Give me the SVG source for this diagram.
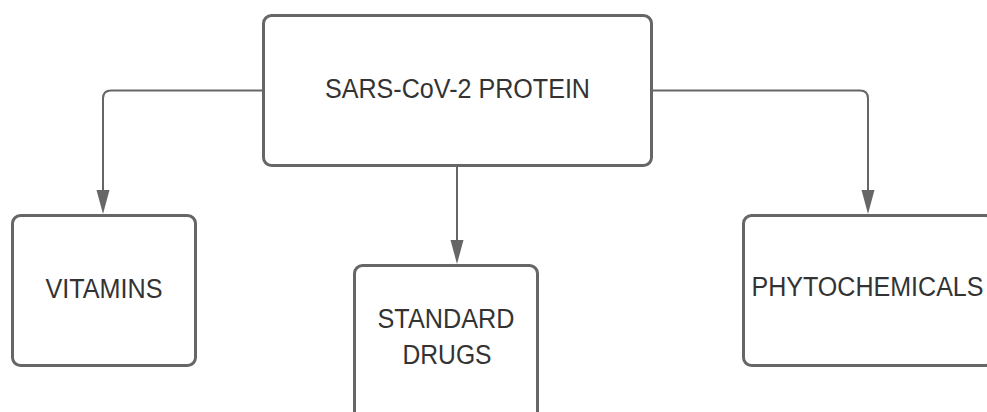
<svg xmlns="http://www.w3.org/2000/svg" width="987" height="412" viewBox="0 0 987 412">
<style>
.box{fill:#fff;stroke:#666;stroke-width:3}
.lbl{font-family:"Liberation Sans",Arial,sans-serif;font-size:27px;fill:#333;text-anchor:middle}
.conn{fill:none;stroke:#666;stroke-width:2}
.head{fill:#666}
</style>
<rect width="987" height="412" fill="#fff"/>
<g id="connectors">
<path class="conn" d="M263,90.5 H111 Q103,90.5 103,98.5 V200"/>
<path class="conn" d="M652,90.5 H860 Q868,90.5 868,98.5 V200"/>
<path class="conn" d="M457,166 V250"/>
<path class="head" d="M96.5,190 L109.5,190 L103,214 Z"/>
<path class="head" d="M861.5,190 L874.5,190 L868,214 Z"/>
<path class="head" d="M450.5,240 L463.5,240 L457,264 Z"/>
</g>
<g id="sars">
<rect class="box" x="263.5" y="15.5" width="388" height="150" rx="8"/>
<text class="lbl" x="457.5" y="97.7" textLength="265" lengthAdjust="spacingAndGlyphs">SARS-CoV-2 PROTEIN</text>
</g>
<g id="vitamins">
<rect class="box" x="12.5" y="215.5" width="183" height="150" rx="8"/>
<text class="lbl" x="104" y="297.7" textLength="117" lengthAdjust="spacingAndGlyphs">VITAMINS</text>
</g>
<g id="drugs">
<rect class="box" x="354.5" y="265.5" width="183" height="160" rx="8"/>
<text class="lbl" x="446" y="327.7" textLength="137" lengthAdjust="spacingAndGlyphs">STANDARD</text>
<text class="lbl" x="447" y="364" textLength="89" lengthAdjust="spacingAndGlyphs">DRUGS</text>
</g>
<g id="phyto">
<rect class="box" x="743.5" y="215.5" width="250" height="150" rx="8"/>
<text class="lbl" x="867.5" y="295.5" textLength="232" lengthAdjust="spacingAndGlyphs">PHYTOCHEMICALS</text>
</g>
</svg>
